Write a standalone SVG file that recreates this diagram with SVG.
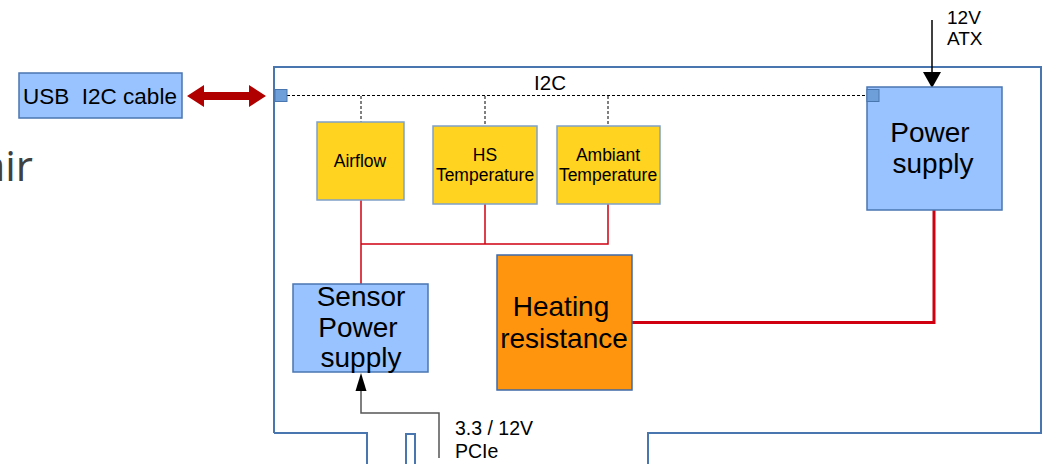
<svg xmlns="http://www.w3.org/2000/svg" width="1045" height="464" viewBox="0 0 1045 464">
<style>
  text { font-family: "Liberation Sans", Arial, sans-serif; fill: #000; }
  .blue { fill: #99c3ff; stroke: #4a76b0; stroke-width: 1.5; }
  .yellow { fill: #ffd320; stroke: #7fa0c8; stroke-width: 1.5; }
  .orange { fill: #ff950e; stroke: #3f6aa8; stroke-width: 1.5; }
  .port { fill: #6f9fd8; stroke: #4a76b0; stroke-width: 1; }
  .board { fill: none; stroke: #4a76b0; stroke-width: 2; }
  .i2c { fill: none; stroke: #000; stroke-width: 1; stroke-dasharray: 3 2; }
  .pwr { fill: none; stroke: #d00010; stroke-width: 1.5; }
  .pwrthick { fill: none; stroke: #d00010; stroke-width: 3; }
  .s { font-size: 17.5px; text-anchor: middle; }
  .b { font-size: 28px; text-anchor: middle; }
  .l { font-size: 19.5px; }
</style>
<rect width="1045" height="464" fill="#fff"/>

<text x="33" y="181" style="font-family: 'Open Sans', 'Liberation Sans', sans-serif; font-size: 42px; fill: #404040; text-anchor: end;">air</text>

<g id="board">
  <path class="board" d="M274 433 L274 67 L1041 67 L1041 433 L648 433 L648 464"/>
  <path class="board" d="M274 433 L367 433 L367 464"/>
  <path class="board" d="M406 464 L406 434 L415 434 L415 464"/>
</g>

<g id="connectors">
  <polygon points="187,96 204,85 204,92 249,92 249,85 266,96 249,107 249,100 204,100 204,107" fill="#b00000"/>
  <path class="i2c" d="M287 95.5 L867 95.5"/>
  <path class="i2c" d="M361 96 L361 122"/>
  <path class="i2c" d="M485 96 L485 126"/>
  <path class="i2c" d="M608 96 L608 126"/>
  <path class="pwr" d="M361 200 L361 285"/>
  <path class="pwr" d="M485 204 L485 244"/>
  <path class="pwr" d="M608 204 L608 244 L361 244"/>
  <path class="pwrthick" d="M632 322.5 L934 322.5 L934 210"/>
  <path d="M932 20 L932 75" fill="none" stroke="#000" stroke-width="1.5"/>
  <path d="M923 72 L941 72 L932 88 z" fill="#000"/>
  <path d="M439 458 L439 413 L361 413 L361 388" fill="none" stroke="#555" stroke-width="1.5"/>
  <path d="M355.5 391 L366.5 391 L361 373 z" fill="#000"/>
</g>

<g id="usb">
  <rect class="blue" x="19" y="73" width="163" height="45"/>
  <text x="100" y="104" style="font-size: 22.5px; text-anchor: middle;" xml:space="preserve">USB  I2C cable</text>
</g>

<g id="i2c-label">
  <text x="550" y="90" style="font-size: 20.5px; text-anchor: middle;">I2C</text>
</g>

<g id="port-left">
  <rect class="port" x="275" y="89.5" width="12" height="12"/>
</g>

<g id="airflow">
  <rect class="yellow" x="317" y="122" width="87" height="78"/>
  <text class="s" x="360" y="167">Airflow</text>
</g>

<g id="hs-temperature">
  <rect class="yellow" x="433" y="126" width="104" height="78"/>
  <text class="s" x="485" y="161">HS</text>
  <text class="s" x="485" y="181">Temperature</text>
</g>

<g id="ambiant-temperature">
  <rect class="yellow" x="557" y="126" width="103" height="78"/>
  <text class="s" x="608" y="161">Ambiant</text>
  <text class="s" x="608" y="181">Temperature</text>
</g>

<g id="sensor-power-supply">
  <rect class="blue" x="293" y="284" width="135" height="88"/>
  <text class="b" x="361" y="306">Sensor</text>
  <text class="b" x="358" y="337">Power</text>
  <text class="b" x="361" y="367">supply</text>
</g>

<g id="heating-resistance">
  <rect class="orange" x="497" y="255" width="135" height="135"/>
  <text class="b" x="561" y="316">Heating</text>
  <text class="b" x="564" y="348">resistance</text>
</g>

<g id="power-supply">
  <rect class="blue" x="867" y="87" width="135" height="123"/>
  <rect class="port" x="867" y="89.5" width="12" height="12"/>
  <text class="b" x="930" y="142">Power</text>
  <text class="b" x="933" y="173">supply</text>
</g>

<g id="labels">
  <text class="l" x="947" y="24" style="font-size: 19px;">12V</text>
  <text class="l" x="947" y="45" style="font-size: 19px;">ATX</text>
  <text class="l" x="455" y="435">3.3 / 12V</text>
  <text class="l" x="455" y="458">PCIe</text>
</g>
</svg>
